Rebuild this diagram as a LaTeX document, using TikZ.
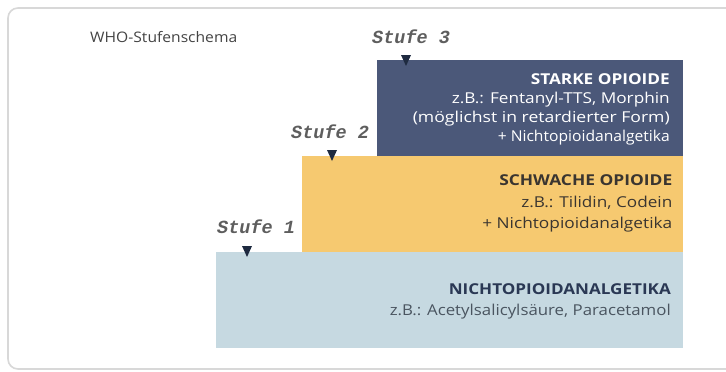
\documentclass[tikz,border=0pt]{standalone}
\usepackage{fontspec}
\usepackage{graphicx}
\usetikzlibrary{calc}
\setmainfont{Open Sans}
\newfontfamily\stufefont{Liberation Mono}
\newcommand{\fw}[2]{\resizebox{#1}{\height}{#2}}
\definecolor{frameC}{HTML}{D8D8D8}
\definecolor{darkC}{HTML}{4B5879}
\definecolor{yellowC}{HTML}{F6C970}
\definecolor{lblueC}{HTML}{C6D9E1}
\definecolor{triC}{HTML}{1E2A40}
\definecolor{stufeC}{HTML}{5E5E5E}
\definecolor{yTextC}{HTML}{3A3530}
\definecolor{bHeadC}{HTML}{2A3854}
\definecolor{bTextC}{HTML}{4A5560}
\definecolor{titleC}{HTML}{444444}
\tikzset{
  stepbox/.style={inner sep=0pt, outer sep=0pt, anchor=north west, draw=none},
  lbl/.style={anchor=base east, inner sep=0pt, font=\fontsize{15}{17}\selectfont},
  head/.style={lbl, font=\fontsize{15}{17}\selectfont\bfseries},
  stufe/.style={anchor=base west, inner sep=0pt, text=stufeC, font=\stufefont\bfseries\itshape\fontsize{18.5}{20}\selectfont},
  tri/.style={fill=triC, draw=none}
}
\begin{document}
\begin{tikzpicture}[x=1pt,y=-1pt]
\useasboundingbox (0,0) rectangle (726,372);
\fill[white] (0,0) rectangle (726,372);
\draw[frameC, line width=1.6pt, rounded corners=10pt] (8,8) rectangle (760,369);
\node[anchor=base west, inner sep=0pt, text=titleC, font=\fontsize{14.5}{16}\selectfont] (title) at (90,42) {\fw{147pt}{WHO-Stufenschema}};
% boxes
\node[stepbox, fill=lblueC, minimum width=467pt, minimum height=96pt] (s1) at (216,252) {};
\node[stepbox, fill=yellowC, minimum width=381pt, minimum height=96pt] (s2) at (302,156) {};
\node[stepbox, fill=darkC, minimum width=306pt, minimum height=96pt] (s3) at (377,60) {};
% stufe labels
\node[stufe] (l3) at (372,43) {Stufe 3};
\node[stufe] (l2) at (291,138) {Stufe 2};
\node[stufe] (l1) at (217,233) {Stufe 1};
% triangles
\coordinate (t3) at (406,66);
\coordinate (t2) at (332,161);
\coordinate (t1) at (247,257);
\fill[tri] ($(t3)+(-5,-11)$) -- ($(t3)+(5,-11)$) -- (t3) -- cycle;
\fill[tri] ($(t2)+(-5,-11)$) -- ($(t2)+(5,-11)$) -- (t2) -- cycle;
\fill[tri] ($(t1)+(-5,-11)$) -- ($(t1)+(5,-11)$) -- (t1) -- cycle;
% texts stufe 3
\node[head, text=white] (a1) at (670,84) {\fw{139pt}{STARKE OPIOIDE}};
\node[lbl, text=white] (a2) at (670,103.5) {\fw{218pt}{z.B.: Fentanyl-TTS, Morphin}};
\node[lbl, text=white] (a3) at (670,122) {\fw{257pt}{(möglichst in retardierter Form)}};
\node[lbl, text=white] (a4) at (670,141) {\fw{172pt}{+ Nichtopioidanalgetika}};
% texts stufe 2
\node[head, text=yTextC] (b1) at (672.5,185.5) {\fw{173pt}{SCHWACHE OPIOIDE}};
\node[lbl, text=yTextC] (b2) at (672.5,207.5) {\fw{151pt}{z.B.: Tilidin, Codein}};
\node[lbl, text=yTextC] (b3) at (672.5,228) {\fw{190pt}{+ Nichtopioidanalgetika}};
% texts stufe 1
\node[head, text=bHeadC] (c1) at (671,294) {\fw{222pt}{NICHTOPIOIDANALGETIKA}};
\node[lbl, text=bTextC] (c2) at (671,315) {\fw{281pt}{z.B.: Acetylsalicylsäure, Paracetamol}};
\end{tikzpicture}
\end{document}
